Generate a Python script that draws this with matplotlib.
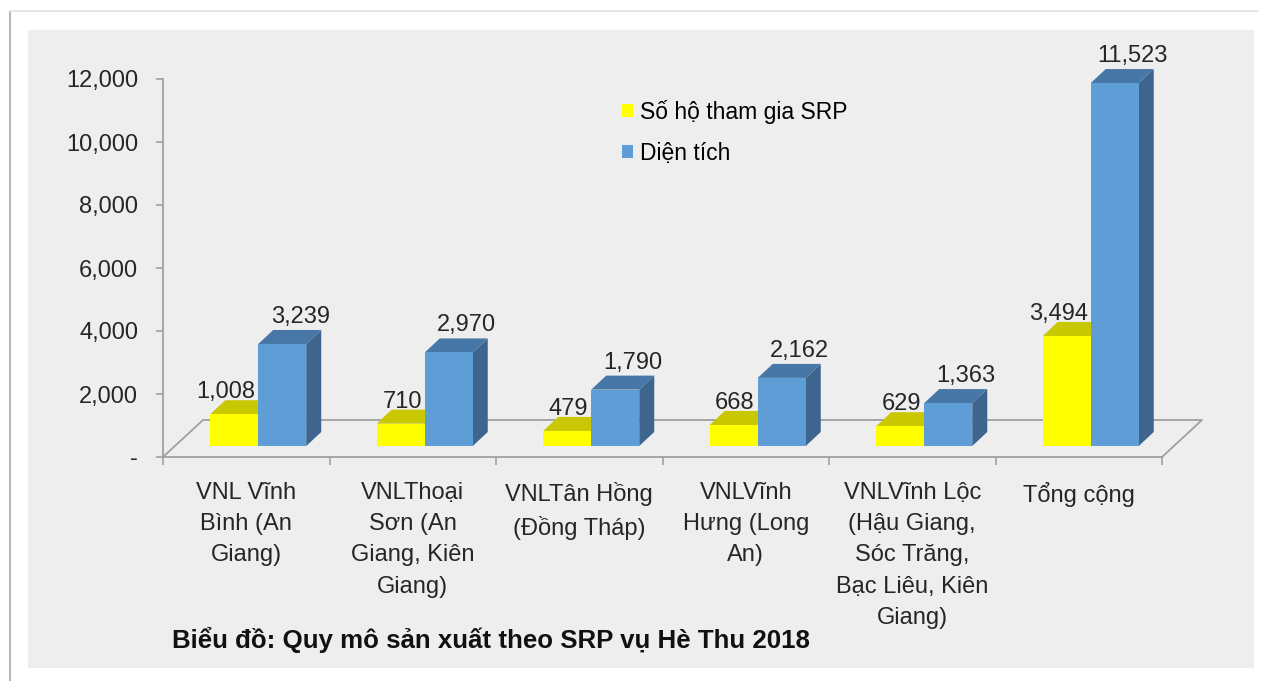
import matplotlib
matplotlib.use("Agg")
import matplotlib.pyplot as plt
from matplotlib.patches import Polygon, Rectangle, Patch
from matplotlib.lines import Line2D
from matplotlib.ticker import FuncFormatter

# data
categories = [
    "VNL Vĩnh\nBình (An\nGiang)",
    "VNLThoại\nSơn (An\nGiang, Kiên\nGiang)",
    "VNLTân Hồng\n(Đồng Tháp)",
    "VNLVĩnh\nHưng (Long\nAn)",
    "VNLVĩnh Lộc\n(Hậu Giang,\nSóc Trăng,\nBạc Liêu, Kiên\nGiang)",
    "Tổng cộng",
]
so_ho = [1008, 710, 479, 668, 629, 3494]
dien_tich = [3239, 2970, 1790, 2162, 1363, 11523]
series_names = ["Số hộ tham gia SRP", "Diện tích"]
title = "Biểu đồ: Quy mô sản xuất theo SRP vụ Hè Thu 2018"
yticks = [0, 2000, 4000, 6000, 8000, 10000, 12000]

YEL = "#ffff00"
YEL_TOP = "#c8c700"
BLUE = "#5e9dd6"
BLUE_TOP = "#4777a6"
BLUE_SIDE = "#3d658e"
GRID = "#a0a0a0"
TXT = "#262626"

plt.rcParams["font.family"] = ["Liberation Sans", "DejaVu Sans"]

W, H = 1263, 682
fig = plt.figure(figsize=(W / 100, H / 100), dpi=100)
fig.patch.set_facecolor("white")

# frame + gray panel (figure pixel coords)
fig.patches.append(Rectangle((28 / W, 1 - 668 / H), (1254 - 28) / W, (668 - 30) / H,
                             transform=fig.transFigure, facecolor="#eeeeee",
                             edgecolor="none", zorder=-5))
fig.add_artist(Line2D([10 / W, 10 / W], [1 - 12 / H, 1 - 680 / H],
                      transform=fig.transFigure, color="#b8b8b8", lw=1.5, zorder=-5))
fig.add_artist(Line2D([10 / W, 1258 / W], [1 - 11 / H, 1 - 11 / H],
                      transform=fig.transFigure, color="#e2e2e2", lw=1.2, zorder=-5))

ax = fig.add_axes([163 / W, 1 - 457 / H, (1162 - 163) / W, (457 - 79) / H])
ax.set_facecolor("none")
ax.set_xlim(0, 6)
ax.set_ylim(0, 12000)

# pixel -> data helpers for the 3d offsets
px_x = 6 / (1162 - 163)
px_y = 12000 / (457 - 79)

floor_dx, floor_dy = 40 * px_x, 37 * px_y
base_dx, base_dy = 12 * px_x, 11 * px_y
bar_dx, bar_dy = 15 * px_x, 14 * px_y
bar_w = 48 * px_x

# floor
ax.plot([0, floor_dx, 6 + floor_dx, 6], [0, floor_dy, floor_dy, 0],
        color=GRID, lw=1.3, clip_on=False, zorder=1)


def bar3d(x0, val, front, top, side):
    b = base_dy
    x0 = x0 + base_dx
    ax.add_patch(Polygon([(x0 + bar_w, b), (x0 + bar_w + bar_dx, b + bar_dy),
                          (x0 + bar_w + bar_dx, b + val + bar_dy), (x0 + bar_w, b + val)],
                         closed=True, facecolor=side, edgecolor="none",
                         clip_on=False, zorder=2))
    ax.add_patch(Polygon([(x0, b + val), (x0 + bar_w, b + val),
                          (x0 + bar_w + bar_dx, b + val + bar_dy), (x0 + bar_dx, b + val + bar_dy)],
                         closed=True, facecolor=top, edgecolor="none",
                         clip_on=False, zorder=2))
    ax.add_patch(Rectangle((x0, b), bar_w, val, facecolor=front, edgecolor="none",
                           clip_on=False, zorder=2))


for i, (a, d) in enumerate(zip(so_ho, dien_tich)):
    xy = i + 0.5 - bar_w
    bar3d(xy, a, YEL, YEL_TOP, YEL_TOP)
    bar3d(xy + bar_w, d, BLUE, BLUE_TOP, BLUE_SIDE)
    # value labels
    ax.text(xy + bar_w + base_dx - 3 * px_x, base_dy + a + bar_dy + 2 * px_y,
            f"{a:,}", ha="right", va="baseline", fontsize=17, color=TXT, zorder=3)
    ax.text(xy + bar_w * 1.5 + base_dx + bar_dx + 3 * px_x, base_dy + d + bar_dy + 7 * px_y,
            f"{d:,}", ha="center", va="baseline", fontsize=17, color=TXT, zorder=3)
    ax.text(i + 0.5, -25 * px_y, categories[i], ha="center", va="top",
            fontsize=17, color=TXT, linespacing=1.54)

# axes styling
for s in ["top", "right"]:
    ax.spines[s].set_visible(False)
for s in ["left", "bottom"]:
    ax.spines[s].set_color(GRID)
    ax.spines[s].set_linewidth(1.3)
ax.set_yticks(yticks)
ax.yaxis.set_major_formatter(FuncFormatter(lambda v, p: "-" if v == 0 else f"{v:,.0f}"))
ax.tick_params(axis="y", length=5, width=1.2, color=GRID, pad=13,
               labelsize=17, labelcolor=TXT)
ax.set_xticks(range(7))
ax.set_xticklabels([])
ax.tick_params(axis="x", length=6, width=1.2, color=GRID)

# legend
ax.legend(handles=[Patch(facecolor=YEL, edgecolor="none"),
                   Patch(facecolor=BLUE, edgecolor="none")],
          labels=series_names, loc="upper left",
          bbox_to_anchor=(622 / W, 1 - 100 / H), bbox_transform=fig.transFigure,
          frameon=False, fontsize=16.5, handlelength=0.5, handleheight=0.5,
          handletextpad=0.3, labelspacing=0.78, borderpad=0, borderaxespad=0)

fig.text(172 / W, 1 - 640 / H, title, ha="left", va="center",
         fontsize=18.6, fontweight="bold", color="#111111")

fig.savefig("out.png", dpi=100)
